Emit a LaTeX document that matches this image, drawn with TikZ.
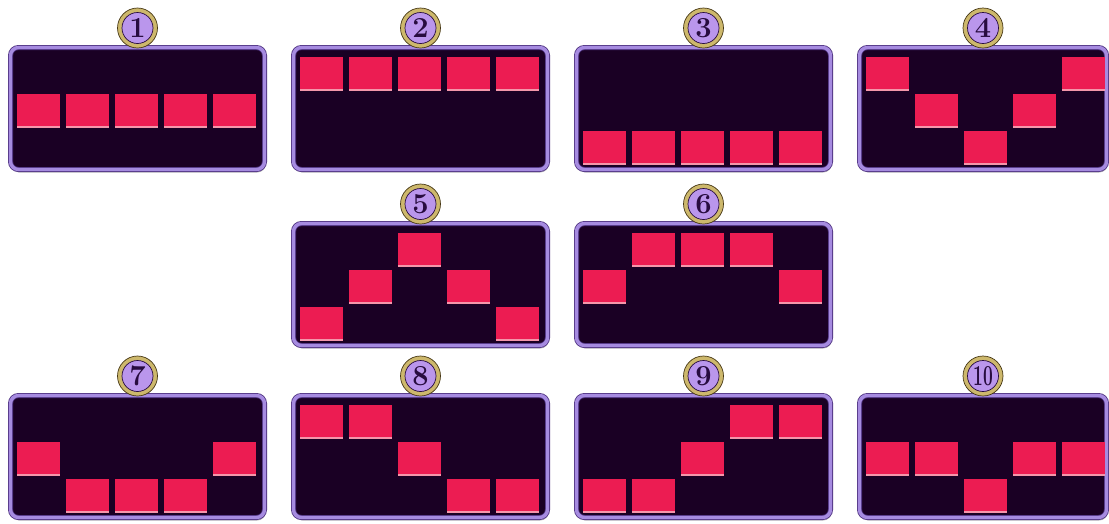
\documentclass[tikz,border=0pt]{standalone}
\usetikzlibrary{shadows}
\definecolor{panelbg}{RGB}{26,0,36}
\definecolor{rim}{RGB}{166,139,224}
\definecolor{rimdark}{RGB}{80,52,130}
\definecolor{crim}{RGB}{236,28,82}
\definecolor{crimedge}{RGB}{244,150,170}
\definecolor{gold}{RGB}{205,184,108}
\definecolor{golddark}{RGB}{70,55,20}
\definecolor{badgefill}{RGB}{186,150,236}
\definecolor{numcol}{RGB}{40,12,64}
\tikzset{
  panel/.style={rectangle, rounded corners=8pt, fill=panelbg, draw=rimdark, line width=0.8pt,
    double=rim, double distance=3.4pt, inner sep=0pt,
    drop shadow={shadow xshift=1pt, shadow yshift=-3pt, fill=black, opacity=0.22}},
  sq/.style={rectangle, fill=crim, inner sep=0pt, minimum width=43pt, minimum height=34pt, anchor=north west,
    path picture={\fill[crimedge] (path picture bounding box.south west) rectangle ([yshift=2.5pt]path picture bounding box.south east);}},
  badge/.style={circle, fill=gold, draw=golddark, line width=0.7pt, minimum size=40pt, inner sep=0pt},
  badgein/.style={circle, fill=badgefill, draw=numcol, line width=0.7pt, minimum size=31pt, inner sep=0pt,
    text=numcol, font=\fontsize{29}{29}\selectfont\bfseries}
}
% #1 id, #2 left, #3 top, #4 width, #5 rows, #6 label text
\newcommand\mypanel[6]{%
  \node[panel, minimum width={#4-5}, minimum height=122] (p#1) at ({#2+#4/2},{#3+63.5}) {};
  \foreach \r [count=\i from 0] in {#5} {
    \node[sq] (s#1-\i) at ({#2+9+49*\i},{#3+12+37*\r}) {};
  }
  \node[badge] (b#1) at ({#2+#4/2},{#3-17}) {};
  \node[badgein] (n#1) at (b#1) {#6};
}
\begin{document}
\begin{tikzpicture}[x=1pt,y=-1pt]
\useasboundingbox (0,0) rectangle (1109,523);
\fill[white] (0,0) rectangle (1109,523);
\mypanel{1}{8}{45}{259}{1,1,1,1,1}{1}
\mypanel{2}{291}{45}{259}{0,0,0,0,0}{2}
\mypanel{3}{574}{45}{259}{2,2,2,2,2}{3}
\mypanel{4}{857}{45}{252}{0,1,2,1,0}{4}
\mypanel{5}{291}{221}{259}{2,1,0,1,2}{5}
\mypanel{6}{574}{221}{259}{1,0,0,0,1}{6}
\mypanel{7}{8}{393}{259}{1,2,2,2,1}{7}
\mypanel{8}{291}{393}{259}{0,0,1,2,2}{8}
\mypanel{9}{574}{393}{259}{2,2,1,0,0}{9}
\mypanel{10}{857}{393}{252}{1,1,2,1,1}{\scalebox{0.6}[1]{10}}
\end{tikzpicture}
\end{document}
